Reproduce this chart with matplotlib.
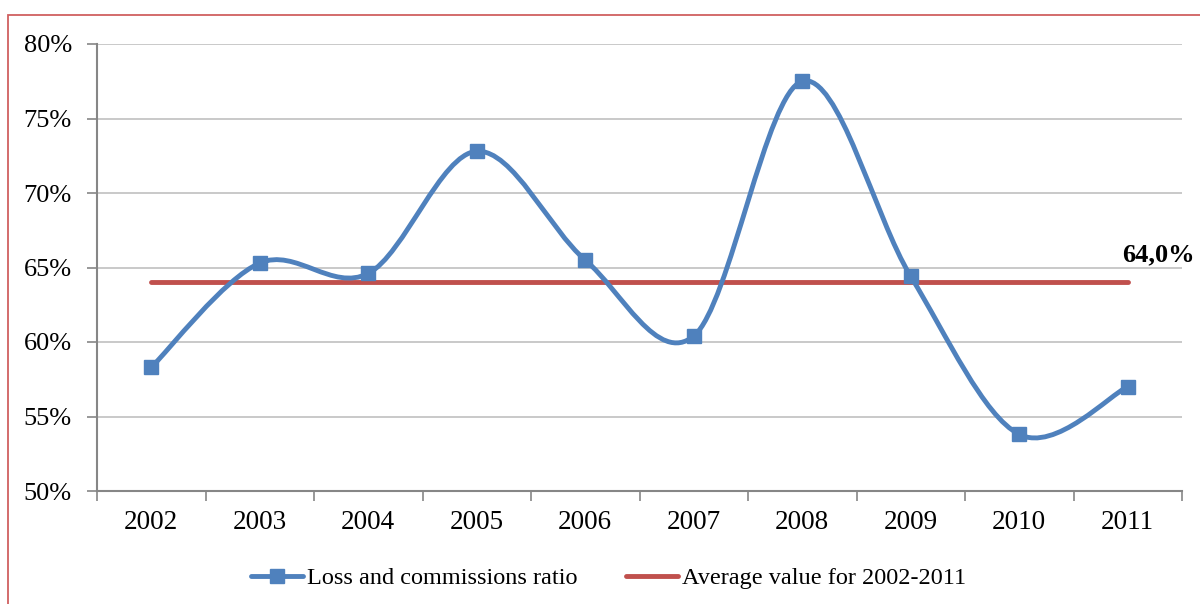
import numpy as np
import matplotlib
matplotlib.use("Agg")
import matplotlib.pyplot as plt
from matplotlib.path import Path
from matplotlib.patches import PathPatch, Rectangle
from matplotlib.lines import Line2D

years = ["2002", "2003", "2004", "2005", "2006", "2007", "2008", "2009", "2010", "2011"]
ratio = [58.3, 65.3, 64.6, 72.8, 65.5, 60.4, 77.5, 64.4, 53.8, 57.0]
average = 64.0
avg_label = "64,0%"
series_names = ["Loss and commissions ratio", "Average value for 2002-2011"]

blue = "#4F81BD"
red = "#C0504D"
plt.rcParams['font.family'] = ['Liberation Serif', 'DejaVu Serif']

fig = plt.figure(figsize=(12, 6.04), dpi=100)
W, H = 1200, 604
ax = fig.add_axes([97 / W, 1 - 491 / H, (1182 - 97) / W, (491 - 44) / H])

x = np.arange(len(years))
y = np.array(ratio)

# Excel-style smoothed line (cubic Bezier through points)
verts = [(x[0], y[0])]
codes = [Path.MOVETO]
n = len(x)
for i in range(n - 1):
    p0 = np.array([x[max(i - 1, 0)], y[max(i - 1, 0)]])
    p1 = np.array([x[i], y[i]])
    p2 = np.array([x[i + 1], y[i + 1]])
    p3 = np.array([x[min(i + 2, n - 1)], y[min(i + 2, n - 1)]])
    c1 = p1 + (p2 - p0) / 6
    c2 = p2 - (p3 - p1) / 6
    verts += [tuple(c1), tuple(c2), tuple(p2)]
    codes += [Path.CURVE4] * 3
ax.add_patch(PathPatch(Path(verts, codes), facecolor='none', edgecolor=blue,
                       lw=3.5, capstyle='round', joinstyle='round', zorder=3))
ax.plot(x, y, linestyle='none', marker='s', markersize=10.5, color=blue, zorder=4)

ax.plot([x[0], x[-1]], [average, average], color=red, lw=3.5,
        solid_capstyle='round', zorder=2)
ax.text(x[-1] + 0.62, average + 1.4, avg_label, fontsize=19, fontweight='bold',
        ha='right', va='baseline', clip_on=False)

ax.set_xlim(-0.5, len(years) - 0.5)
ax.set_ylim(50, 80)
ax.set_yticks(np.arange(50, 81, 5))
ax.set_yticklabels([f"{v}%" for v in range(50, 81, 5)])
ax.set_xticks(x)
ax.set_xticklabels(years)
ax.set_xticks(np.arange(-0.5, len(years), 1), minor=True)
ax.tick_params(axis='x', which='major', length=0, pad=14, labelsize=19.5)
ax.tick_params(axis='x', which='minor', length=7, width=1.2, color='#868686')
ax.tick_params(axis='y', length=7, width=1.2, color='#868686', pad=11, labelsize=19)
ax.grid(axis='y', color='#c0c0c0', lw=1.2)
ax.set_axisbelow(True)
for s in ['top', 'right']:
    ax.spines[s].set_visible(False)
for s in ['left', 'bottom']:
    ax.spines[s].set_color('#868686')
    ax.spines[s].set_linewidth(1.5)

handles = [Line2D([], [], color=blue, lw=3.5, marker='s', markersize=10.5, solid_capstyle='round'),
           Line2D([], [], color=red, lw=3.5, solid_capstyle='round')]
fig.legend(handles, series_names, loc='center', bbox_to_anchor=(609 / W, 1 - 578 / H),
           ncol=2, frameon=False, fontsize=17.5, handlelength=2.1, handletextpad=0.2,
           columnspacing=2.0)

fig.patches.append(Rectangle((8 / W, -0.1), 1.2, 1 - 15 / H + 0.1, transform=fig.transFigure,
                             fill=False, edgecolor='#D06060', lw=1.3))

fig.savefig("out.png", dpi=100, facecolor='white')
